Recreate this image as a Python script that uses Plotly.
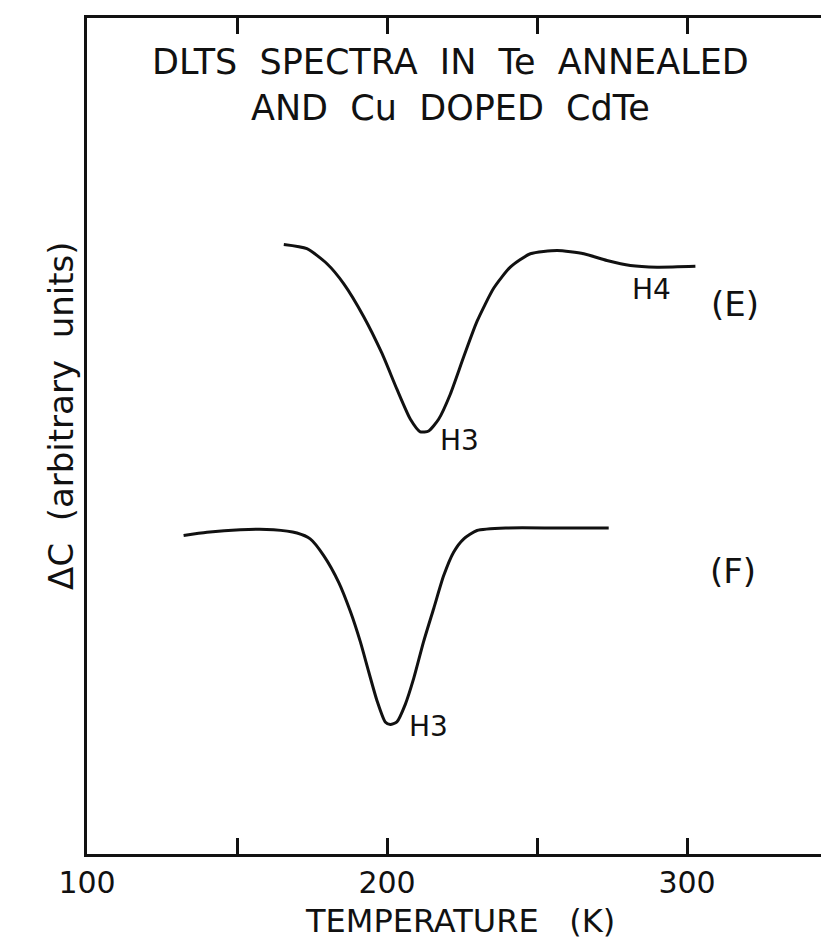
import plotly.graph_objects as go

# Temperature (K) and DLTS signal (arbitrary units)
temp_E = [165.6, 173.3, 180.0, 185.6, 192.2, 198.3, 203.3, 207.8, 211.1, 213.9, 217.2, 221.1,
          225.6, 230.0, 235.6, 241.1, 247.8, 256.7, 265.6, 273.3, 281.1, 290.0, 302.8]
signal_E = [72.9, 72.4, 70.6, 68.2, 64.3, 59.9, 55.6, 52.0, 50.5, 50.6, 52.0, 55.0,
            59.5, 63.7, 67.7, 70.2, 71.8, 72.2, 71.8, 71.0, 70.4, 70.2, 70.3]

temp_F = [132.2, 140.0, 151.1, 162.2, 170.0, 174.4, 178.9, 183.9, 187.8, 191.1, 193.9, 196.7,
          199.4, 201.1, 203.3, 206.1, 208.9, 212.2, 215.6, 218.9, 222.2, 225.6, 230.0, 240.0,
          256.7, 273.9]
signal_F = [38.1, 38.5, 38.8, 38.8, 38.4, 37.7, 35.7, 32.5, 29.0, 25.4, 21.8, 18.3,
            15.8, 15.5, 15.8, 17.9, 21.0, 25.4, 29.4, 33.3, 36.1, 37.7, 38.7, 39.0,
            39.0, 39.0]

tick_vals = [100, 150, 200, 250, 300]
tick_text = ["100", "", "200", "", "300"]

INK = "#111111"
FONT = "DejaVu Sans"
SP2 = "\u00a0 "
SP3 = "\u00a0\u00a0 "

fig = go.Figure()
for t, s in [(temp_E, signal_E), (temp_F, signal_F)]:
    fig.add_trace(go.Scatter(x=t, y=s, mode="lines",
                             line=dict(color=INK, width=3, shape="spline", smoothing=0.6),
                             showlegend=False, hoverinfo="skip"))

ann = dict(showarrow=False, font=dict(family=FONT, size=28, color=INK))
fig.add_annotation(x=224, y=49.5, text="H3", **ann)
fig.add_annotation(x=288, y=67.5, text="H4", **ann)
fig.add_annotation(x=213.7, y=15.2, text="H3", **ann)
fig.add_annotation(x=316, y=65.8, text="(E)", showarrow=False,
                   font=dict(family=FONT, size=34, color=INK))
fig.add_annotation(x=315.3, y=33.9, text="(F)", showarrow=False,
                   font=dict(family=FONT, size=34, color=INK))

title = ("DLTS" + SP2 + "SPECTRA" + SP2 + "IN" + SP2 + "Te" + SP2 + "ANNEALED<br>"
         "AND" + SP2 + "Cu" + SP2 + "DOPED" + SP2 + "CdTe")
fig.add_annotation(x=221, y=92.0, xref="x", yref="y", text=title,
                   showarrow=False, align="center",
                   font=dict(family=FONT, size=35, color=INK))

fig.add_annotation(x=224.3, y=0, xref="x", yref="paper", yanchor="bottom", yshift=-88,
                   text="TEMPERATURE" + SP3 + "(K)", showarrow=False,
                   font=dict(family=FONT, size=32, color=INK))

fig.add_annotation(x=0, y=52.4, xref="paper", yref="y", xanchor="right", xshift=-4,
                   text="\u0394C" + SP2 + "(arbitrary" + SP2 + "units)", textangle=-90,
                   showarrow=False, font=dict(family=FONT, size=34, color=INK))

fig.update_xaxes(range=[100, 350], showline=True, linewidth=3, linecolor=INK, mirror="ticks",
                 ticks="inside", ticklen=16, tickwidth=2.5, tickcolor=INK,
                 tickvals=tick_vals, ticktext=tick_text,
                 tickfont=dict(family=FONT, size=30, color=INK),
                 showgrid=False, zeroline=False)
fig.update_yaxes(range=[0, 100], showline=True, linewidth=3, linecolor=INK, mirror=False,
                 showticklabels=False, ticks="", showgrid=False, zeroline=False)

fig.update_layout(width=829, height=939, margin=dict(l=79, r=0, t=10, b=93),
                  plot_bgcolor="white", paper_bgcolor="white")

fig.write_html("out.html")
